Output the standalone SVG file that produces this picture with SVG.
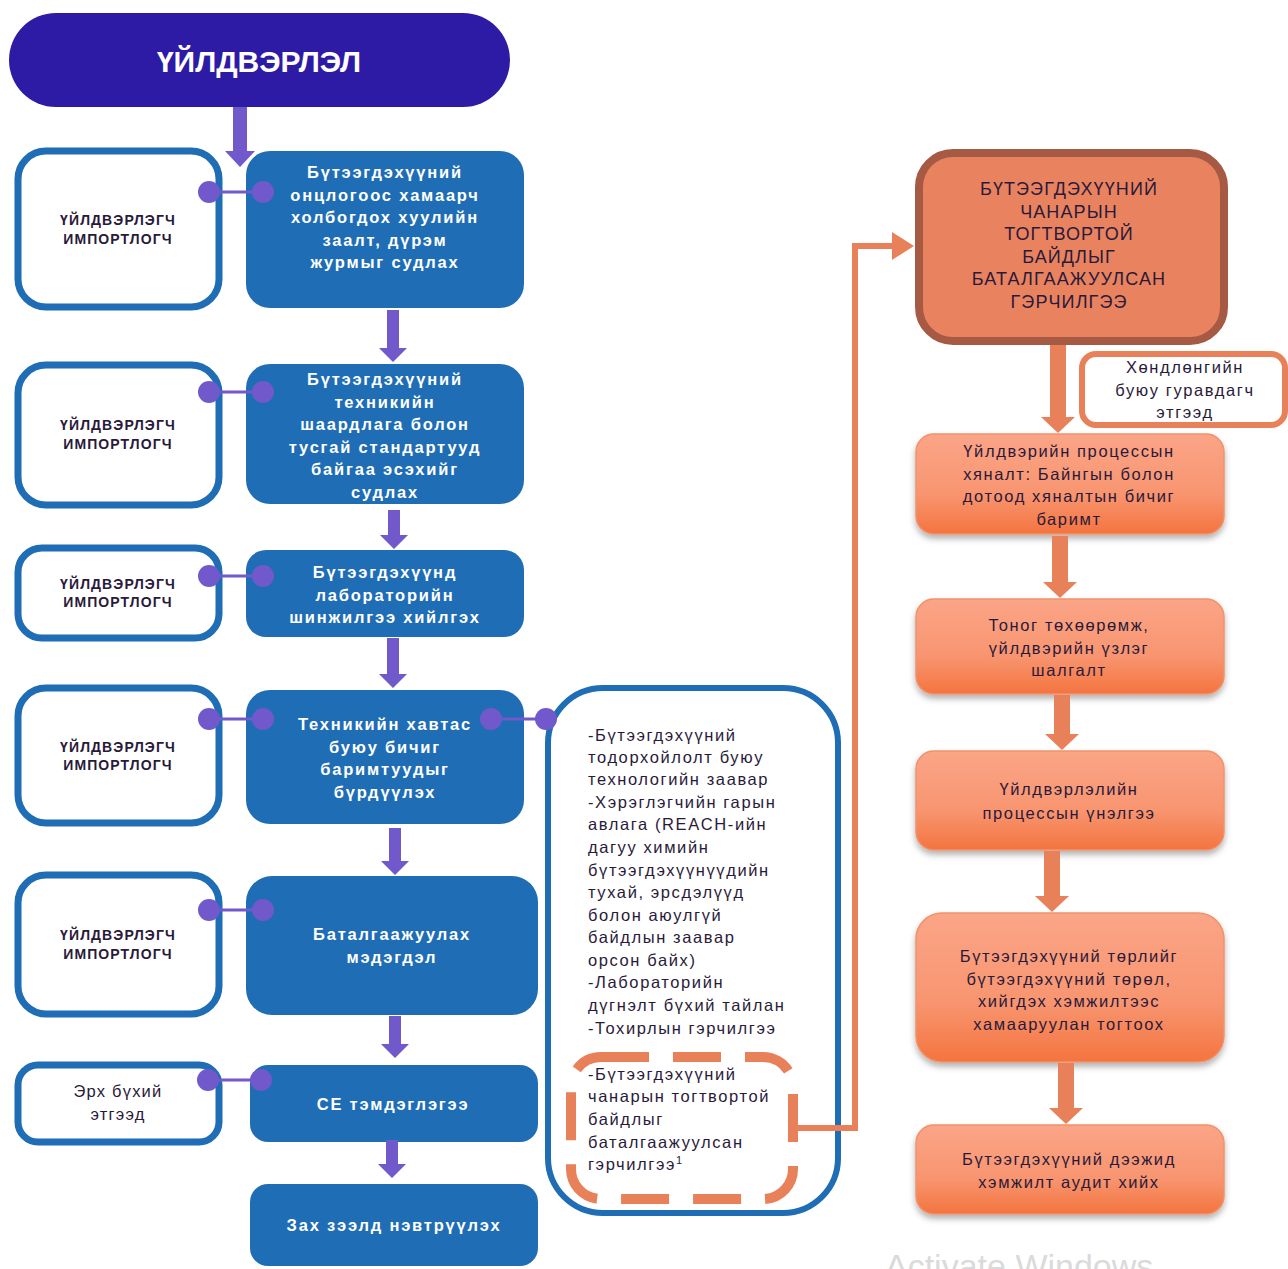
<svg xmlns="http://www.w3.org/2000/svg" width="1288" height="1269" viewBox="0 0 1288 1269">
<defs>
<linearGradient id="og" x1="0" y1="0" x2="0" y2="1">
<stop offset="0" stop-color="#FBA587"/>
<stop offset="0.6" stop-color="#F89570"/>
<stop offset="1" stop-color="#F4743F"/>
</linearGradient>
<filter id="sh" x="-10%" y="-10%" width="120%" height="130%">
<feDropShadow dx="0" dy="4" stdDeviation="3" flood-color="#000" flood-opacity="0.3"/>
</filter>
</defs>
<style>
.wbox{fill:#fff;stroke:#1F6DB4;stroke-width:7}
.bbox{fill:#1F6DB4}
.obox{fill:url(#og);stroke:#F0926C;stroke-width:1.5;filter:url(#sh)}
.parr{fill:#7159CB}
.oarr{fill:#E8805A}
.dot{fill:#7159CB}
.dl{stroke:#7159CB;stroke-width:3}
.lt{font-family:"Liberation Sans",Arial,sans-serif;font-size:14px;font-weight:bold;fill:#2A1A3A;text-anchor:middle;letter-spacing:1.1px}
.bt{font-family:"Liberation Sans",Arial,sans-serif;font-size:16.5px;font-weight:bold;fill:#fff;text-anchor:middle;letter-spacing:1.8px}
.mt{font-family:"Liberation Sans",Arial,sans-serif;font-size:16.5px;fill:#2A1A3A;letter-spacing:1.6px}
.ot{font-family:"Liberation Sans",Arial,sans-serif;font-size:16.5px;fill:#2A1A3A;text-anchor:middle;letter-spacing:1.6px}
.bigt{font-family:"Liberation Sans",Arial,sans-serif;font-size:18px;fill:#2A1A3A;text-anchor:middle;letter-spacing:1.1px}
</style>

<g id="header">
<rect x="9" y="13" width="501" height="94" rx="47" fill="#2D1AA5"/>
<text x="259" y="72" font-family="Liberation Sans,Arial,sans-serif" font-size="30" font-weight="bold" fill="#fff" text-anchor="middle">ҮЙЛДВЭРЛЭЛ</text>
</g>

<g id="actor1"><rect class="wbox" x="18" y="151" width="201" height="156" rx="28"/>
<text class="lt" x="118" y="225">ҮЙЛДВЭРЛЭГЧ</text><text class="lt" x="118" y="244">ИМПОРТЛОГЧ</text></g>
<g id="actor2"><rect class="wbox" x="18" y="365" width="201" height="140" rx="28"/>
<text class="lt" x="118" y="430">ҮЙЛДВЭРЛЭГЧ</text><text class="lt" x="118" y="449">ИМПОРТЛОГЧ</text></g>
<g id="actor3"><rect class="wbox" x="18" y="548" width="201" height="90" rx="24"/>
<text class="lt" x="118" y="589">ҮЙЛДВЭРЛЭГЧ</text><text class="lt" x="118" y="607">ИМПОРТЛОГЧ</text></g>
<g id="actor4"><rect class="wbox" x="18" y="688" width="201" height="135" rx="28"/>
<text class="lt" x="118" y="752">ҮЙЛДВЭРЛЭГЧ</text><text class="lt" x="118" y="770">ИМПОРТЛОГЧ</text></g>
<g id="actor5"><rect class="wbox" x="18" y="875" width="201" height="139" rx="28"/>
<text class="lt" x="118" y="940">ҮЙЛДВЭРЛЭГЧ</text><text class="lt" x="118" y="959">ИМПОРТЛОГЧ</text></g>
<g id="actor6"><rect class="wbox" x="18" y="1065" width="201" height="77" rx="20"/>
<text x="118" y="1097" font-family="Liberation Sans,Arial,sans-serif" font-size="16.5" fill="#2A1A3A" text-anchor="middle" letter-spacing="1.2">Эрх бүхий</text>
<text x="118" y="1120" font-family="Liberation Sans,Arial,sans-serif" font-size="16.5" fill="#2A1A3A" text-anchor="middle" letter-spacing="1.2">этгээд</text></g>

<g id="step1"><rect class="bbox" x="246" y="151" width="278" height="157" rx="24"/>
<text class="bt" x="385" y="178">Бүтээгдэхүүний</text><text class="bt" x="385" y="201">онцлогоос хамаарч</text><text class="bt" x="385" y="223">холбогдох хуулийн</text><text class="bt" x="385" y="246">заалт, дүрэм</text><text class="bt" x="385" y="268">журмыг судлах</text></g>
<g id="step2"><rect class="bbox" x="246" y="364" width="278" height="140" rx="24"/>
<text class="bt" x="385" y="385">Бүтээгдэхүүний</text><text class="bt" x="385" y="408">техникийн</text><text class="bt" x="385" y="430">шаардлага болон</text><text class="bt" x="385" y="453">тусгай стандартууд</text><text class="bt" x="385" y="475">байгаа эсэхийг</text><text class="bt" x="385" y="498">судлах</text></g>
<g id="step3"><rect class="bbox" x="246" y="550" width="278" height="87" rx="20"/>
<text class="bt" x="385" y="578">Бүтээгдэхүүнд</text><text class="bt" x="385" y="601">лабораторийн</text><text class="bt" x="385" y="623">шинжилгээ хийлгэх</text></g>
<g id="step4"><rect class="bbox" x="246" y="690" width="278" height="134" rx="24"/>
<text class="bt" x="385" y="730">Техникийн хавтас</text><text class="bt" x="385" y="753">буюу бичиг</text><text class="bt" x="385" y="775">баримтуудыг</text><text class="bt" x="385" y="798">бүрдүүлэх</text></g>
<g id="step5"><rect class="bbox" x="246" y="876" width="292" height="139" rx="26"/>
<text class="bt" x="392" y="940">Баталгаажуулах</text><text class="bt" x="392" y="963">мэдэгдэл</text></g>
<g id="step6"><rect class="bbox" x="250" y="1065" width="288" height="77" rx="18"/>
<text class="bt" x="393" y="1110">CE тэмдэглэгээ</text></g>
<g id="step7"><rect class="bbox" x="250" y="1184" width="288" height="82" rx="18"/>
<text class="bt" x="394" y="1231">Зах зээлд нэвтрүүлэх</text></g>

<g id="documents">
<rect x="548" y="688" width="290" height="525" rx="55" fill="#fff" stroke="#1F6DB4" stroke-width="6"/>
<text class="mt" x="588" y="741">-Бүтээгдэхүүний</text>
<text class="mt" x="588" y="763">тодорхойлолт буюу</text>
<text class="mt" x="588" y="785">технологийн заавар</text>
<text class="mt" x="588" y="808">-Хэрэглэгчийн гарын</text>
<text class="mt" x="588" y="830">авлага (REACH-ийн</text>
<text class="mt" x="588" y="853">дагуу химийн</text>
<text class="mt" x="588" y="876">бүтээгдэхүүнүүдийн</text>
<text class="mt" x="588" y="898">тухай, эрсдэлүүд</text>
<text class="mt" x="588" y="921">болон аюулгүй</text>
<text class="mt" x="588" y="943">байдлын заавар</text>
<text class="mt" x="588" y="966">орсон байх)</text>
<text class="mt" x="588" y="988">-Лабораторийн</text>
<text class="mt" x="588" y="1011">дүгнэлт бүхий тайлан</text>
<text class="mt" x="588" y="1034">-Тохирлын гэрчилгээ</text>
</g>
<g id="certificate-note">
<rect x="571" y="1057" width="222" height="142" rx="30" fill="none" stroke="#E8805A" stroke-width="10" stroke-dasharray="48 24"/>
<text class="mt" x="588" y="1080">-Бүтээгдэхүүний</text>
<text class="mt" x="588" y="1102">чанарын тогтвортой</text>
<text class="mt" x="588" y="1125">байдлыг</text>
<text class="mt" x="588" y="1148">баталгаажуулсан</text>
<text class="mt" x="588" y="1170">гэрчилгээ<tspan font-size="11" dy="-6">1</tspan></text>
</g>

<g id="certificate">
<rect x="919" y="153" width="305" height="188" rx="34" fill="#E9835F" stroke="#A65A43" stroke-width="8"/>
<text class="bigt" x="1069" y="195">БҮТЭЭГДЭХҮҮНИЙ</text>
<text class="bigt" x="1069" y="218">ЧАНАРЫН</text>
<text class="bigt" x="1069" y="240">ТОГТВОРТОЙ</text>
<text class="bigt" x="1069" y="263">БАЙДЛЫГ</text>
<text class="bigt" x="1069" y="285">БАТАЛГААЖУУЛСАН</text>
<text class="bigt" x="1069" y="308">ГЭРЧИЛГЭЭ</text>
</g>
<g id="third-party">
<rect x="1082" y="354" width="203" height="71" rx="14" fill="#fff" stroke="#E8805A" stroke-width="6"/>
<text class="ot" x="1185" y="373">Хөндлөнгийн</text>
<text class="ot" x="1185" y="396">буюу гуравдагч</text>
<text class="ot" x="1185" y="418">этгээд</text>
</g>
<g id="check1"><rect class="obox" x="916" y="434" width="308" height="100" rx="18"/>
<text class="ot" x="1069" y="457">Үйлдвэрийн процессын</text><text class="ot" x="1069" y="480">хяналт: Байнгын болон</text><text class="ot" x="1069" y="502">дотоод хяналтын бичиг</text><text class="ot" x="1069" y="525">баримт</text></g>
<g id="check2"><rect class="obox" x="916" y="599" width="308" height="95" rx="18"/>
<text class="ot" x="1069" y="631">Тоног төхөөрөмж,</text><text class="ot" x="1069" y="654">үйлдвэрийн үзлэг</text><text class="ot" x="1069" y="676">шалгалт</text></g>
<g id="check3"><rect class="obox" x="916" y="751" width="308" height="99" rx="18"/>
<text class="ot" x="1069" y="795">Үйлдвэрлэлийн</text><text class="ot" x="1069" y="819">процессын үнэлгээ</text></g>
<g id="check4"><rect class="obox" x="916" y="913" width="308" height="149" rx="26"/>
<text class="ot" x="1069" y="962">Бүтээгдэхүүний төрлийг</text><text class="ot" x="1069" y="985">бүтээгдэхүүний төрөл,</text><text class="ot" x="1069" y="1007">хийгдэх хэмжилтээс</text><text class="ot" x="1069" y="1030">хамааруулан тогтоох</text></g>
<g id="check5"><rect class="obox" x="916" y="1125" width="308" height="89" rx="18"/>
<text class="ot" x="1069" y="1165">Бүтээгдэхүүний дээжид</text><text class="ot" x="1069" y="1188">хэмжилт аудит хийх</text></g>

<g id="connectors">
<path class="parr" d="M233 107 L247 107 L247 151 L255 151 L240 167 L225 151 L233 151 Z"/>
<path class="parr" d="M387 310 L399 310 L399 348 L407 348 L393 362 L379 348 L387 348 Z"/>
<path class="parr" d="M388 510 L400 510 L400 535 L408 535 L394 549 L380 535 L388 535 Z"/>
<path class="parr" d="M387 638 L399 638 L399 674 L407 674 L393 688 L379 674 L387 674 Z"/>
<path class="parr" d="M389 828 L401 828 L401 861 L409 861 L395 875 L381 861 L389 861 Z"/>
<path class="parr" d="M389 1016 L401 1016 L401 1044 L409 1044 L395 1058 L381 1044 L389 1044 Z"/>
<path class="parr" d="M386 1140 L398 1140 L398 1164 L406 1164 L392 1178 L378 1164 L386 1164 Z"/>

<line class="dl" x1="209" y1="192" x2="263" y2="192"/><circle class="dot" cx="209" cy="192" r="11"/><circle class="dot" cx="263" cy="192" r="11"/>
<line class="dl" x1="209" y1="392" x2="263" y2="392"/><circle class="dot" cx="209" cy="392" r="11"/><circle class="dot" cx="263" cy="392" r="11"/>
<line class="dl" x1="209" y1="576" x2="263" y2="576"/><circle class="dot" cx="209" cy="576" r="11"/><circle class="dot" cx="263" cy="576" r="11"/>
<line class="dl" x1="209" y1="719" x2="263" y2="719"/><circle class="dot" cx="209" cy="719" r="11"/><circle class="dot" cx="263" cy="719" r="11"/>
<line class="dl" x1="209" y1="910" x2="263" y2="910"/><circle class="dot" cx="209" cy="910" r="11"/><circle class="dot" cx="263" cy="910" r="11"/>
<line class="dl" x1="208" y1="1080" x2="261" y2="1080"/><circle class="dot" cx="208" cy="1080" r="11"/><circle class="dot" cx="261" cy="1080" r="11"/>
<line class="dl" x1="491" y1="719" x2="546" y2="719"/><circle class="dot" cx="491" cy="719" r="11"/><circle class="dot" cx="546" cy="719" r="11"/>

<polyline points="790,1128 855,1128 855,246 896,246" fill="none" stroke="#E8805A" stroke-width="6"/>
<polygon class="oarr" points="892,232 914,246 892,260"/>

<path class="oarr" d="M1050 345 L1066 345 L1066 417 L1075 417 L1058 433 L1041 417 L1050 417 Z"/>
<path class="oarr" d="M1052 536 L1068 536 L1068 582 L1077 582 L1060 598 L1043 582 L1052 582 Z"/>
<path class="oarr" d="M1054 695 L1070 695 L1070 734 L1079 734 L1062 750 L1045 734 L1054 734 Z"/>
<path class="oarr" d="M1044 851 L1060 851 L1060 896 L1069 896 L1052 912 L1035 896 L1044 896 Z"/>
<path class="oarr" d="M1058 1063 L1074 1063 L1074 1108 L1083 1108 L1066 1124 L1049 1108 L1058 1108 Z"/>
</g>
<text x="885" y="1278" font-family="Liberation Sans,sans-serif" font-size="34" fill="#DADADA">Activate Windows</text>
</svg>
